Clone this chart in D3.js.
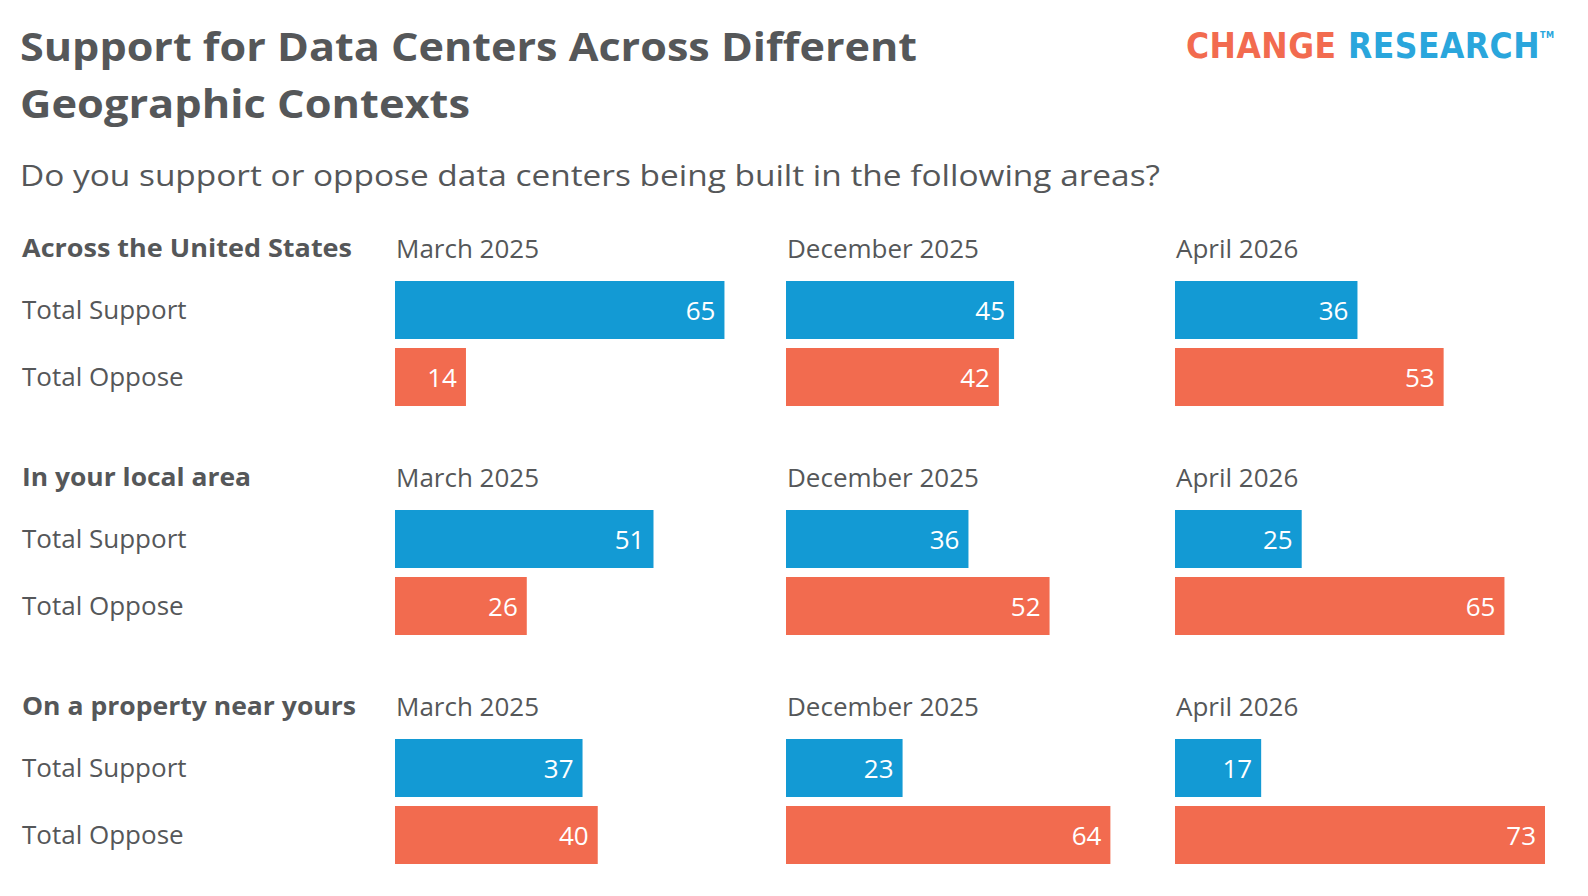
<!DOCTYPE html>
<html><head><meta charset="utf-8">
<script src="https://cdn.jsdelivr.net/npm/d3@7"></script>
<style>body{margin:0;background:#fff;font-family:"Open Sans",sans-serif;}</style>
</head><body><svg id="c" width="1588" height="896"></svg>
<script>
const contexts = ["Across the United States","In your local area","On a property near yours"];
const waves = ["March 2025","December 2025","April 2026"];
const measures = ["Total Support","Total Oppose"];
const support = [[65,45,36],[51,36,25],[37,23,17]];
const oppose = [[14,42,53],[26,52,65],[40,64,73]];
const colors = {"Total Support":"#139ad4","Total Oppose":"#f26b4f"};

const svg = d3.select("#c");
const txt = "#555759";
function fit(sel, w){ const l = sel.node().getComputedTextLength(); if (Math.abs(l-w)>2) sel.attr("textLength",w).attr("lengthAdjust","spacingAndGlyphs"); return sel; }
fit(svg.append("text").attr("x",20).attr("y",61).attr("font-size",40).attr("font-weight",700).attr("fill",txt).text("Support for Data Centers Across Different"),897);
fit(svg.append("text").attr("x",20).attr("y",118).attr("font-size",40).attr("font-weight",700).attr("fill",txt).text("Geographic Contexts"),450);
fit(svg.append("text").attr("x",20).attr("y",186).attr("font-size",30).attr("fill",txt).text("Do you support or oppose data centers being built in the following areas?"),1140);
const logo = svg.append("text").attr("x",1186).attr("y",58).attr("font-size",35).attr("font-weight",700).attr("letter-spacing",0.5).attr("font-family","'DejaVu Sans Condensed','Roboto Condensed',Roboto,sans-serif");
logo.append("tspan").attr("fill","#f26b4f").text("CHANGE ");
logo.append("tspan").attr("fill","#2aa6dc").text("RESEARCH");
logo.append("tspan").attr("fill","#2aa6dc").attr("font-size",9).attr("dy",-20).text("TM");

const x = d3.scaleLinear().domain([0,73]).range([0,370]);
const panelX = d3.scaleOrdinal().domain(waves).range([395,786,1175]);
const groupY = d3.scaleOrdinal().domain(contexts).range([0,229,458]);
const rowY = d3.scaleOrdinal().domain(measures).range([281,348]);
const bh = 58;
const ctxW = [330,229,334];

contexts.forEach((ctx,ci)=>{
  const g = svg.append("g").attr("transform",`translate(0,${groupY(ctx)})`);
  fit(g.append("text").attr("x",22).attr("y",257).attr("font-size",25).attr("font-weight",700).attr("fill",txt).text(ctx),ctxW[ci]);
  measures.forEach(m=>{
    g.append("text").attr("x",22).attr("y",rowY(m)+bh/2+9).attr("font-size",26).attr("fill",txt).text(m);
  });
  waves.forEach((w,wi)=>{
    const px = panelX(w);
    g.append("text").attr("x",px+1).attr("y",258).attr("font-size",26).attr("fill",txt).text(w);
    measures.forEach(m=>{
      const v = (m==="Total Support"?support:oppose)[ci][wi];
      g.append("rect").attr("x",px).attr("y",rowY(m)).attr("width",x(v)).attr("height",bh).attr("fill",colors[m]);
      g.append("text").attr("x",px+x(v)-9).attr("y",rowY(m)+bh/2+10).attr("text-anchor","end").attr("font-size",26).attr("fill","#fff").text(v);
    });
  });
});
</script></body></html>
